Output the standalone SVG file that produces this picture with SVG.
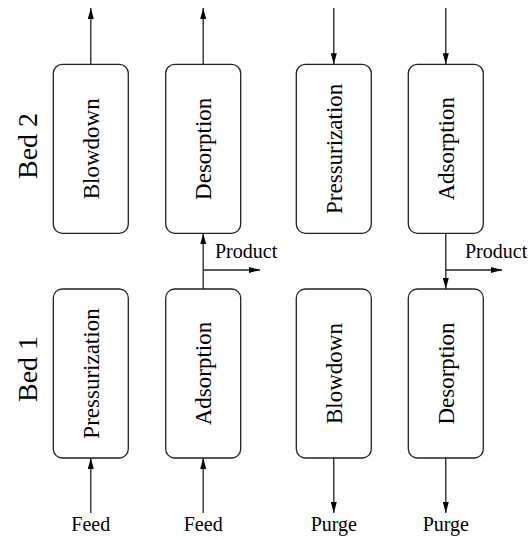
<svg xmlns="http://www.w3.org/2000/svg" width="528" height="539" viewBox="0 0 528 539">
<defs>
<marker id="ah" viewBox="0 0 11 6" refX="11" refY="3" markerWidth="11" markerHeight="6" markerUnits="userSpaceOnUse" orient="auto">
<path d="M0,0 L11,3 L0,6 z" fill="#000"/>
</marker>
<style>
.box{fill:#fff;stroke:#222;stroke-width:1.3}
.lbl{font-family:"Liberation Serif",serif;font-size:23px;text-anchor:middle;fill:#000}
.bed{font-family:"Liberation Serif",serif;font-size:28px;text-anchor:middle;fill:#000}
.io{font-family:"Liberation Serif",serif;font-size:20px;fill:#000}
.c{fill:none;stroke:#222;stroke-width:1.3;marker-end:url(#ah)}
</style>
</defs>
<rect width="528" height="539" fill="#fff"/>
<g id="bed2-label"><text class="bed" transform="translate(37,146) rotate(-90)">Bed 2</text></g>
<g id="bed1-label"><text class="bed" transform="translate(37,369) rotate(-90)">Bed 1</text></g>
<g id="b2-blowdown"><rect class="box" x="53.3" y="64.3" width="75" height="169" rx="9"/><text class="lbl" transform="translate(90.8,148.8) rotate(-90)" y="8">Blowdown</text></g>
<g id="b2-desorption"><rect class="box" x="165.7" y="64.3" width="75" height="169" rx="9"/><text class="lbl" transform="translate(203.2,148.8) rotate(-90)" y="8">Desorption</text></g>
<g id="b2-pressurization"><rect class="box" x="296.3" y="64.3" width="75" height="169" rx="9"/><text class="lbl" transform="translate(333.8,148.8) rotate(-90)" y="8">Pressurization</text></g>
<g id="b2-adsorption"><rect class="box" x="408.3" y="64.3" width="75" height="169" rx="9"/><text class="lbl" transform="translate(445.8,148.8) rotate(-90)" y="8">Adsorption</text></g>
<g id="b1-pressurization"><rect class="box" x="53.3" y="289" width="75" height="169" rx="9"/><text class="lbl" transform="translate(90.8,373.5) rotate(-90)" y="8">Pressurization</text></g>
<g id="b1-adsorption"><rect class="box" x="165.7" y="289" width="75" height="169" rx="9"/><text class="lbl" transform="translate(203.2,373.5) rotate(-90)" y="8">Adsorption</text></g>
<g id="b1-blowdown"><rect class="box" x="296.3" y="289" width="75" height="169" rx="9"/><text class="lbl" transform="translate(333.8,373.5) rotate(-90)" y="8">Blowdown</text></g>
<g id="b1-desorption"><rect class="box" x="408.3" y="289" width="75" height="169" rx="9"/><text class="lbl" transform="translate(445.8,373.5) rotate(-90)" y="8">Desorption</text></g>
<g id="connectors">
<line class="c" x1="90.8" y1="64.3" x2="90.8" y2="8"/>
<line class="c" x1="203.2" y1="64.3" x2="203.2" y2="8"/>
<line class="c" x1="333.8" y1="8" x2="333.8" y2="64.3"/>
<line class="c" x1="445.8" y1="8" x2="445.8" y2="64.3"/>
<line class="c" x1="203.2" y1="289" x2="203.2" y2="233.3"/>
<line class="c" x1="203.2" y1="270" x2="260" y2="270"/>
<line class="c" x1="445.8" y1="233.3" x2="445.8" y2="289"/>
<line class="c" x1="445.8" y1="270" x2="502" y2="270"/>
<line class="c" x1="90.8" y1="513" x2="90.8" y2="458"/>
<line class="c" x1="203.2" y1="513" x2="203.2" y2="458"/>
<line class="c" x1="333.8" y1="458" x2="333.8" y2="513"/>
<line class="c" x1="445.8" y1="458" x2="445.8" y2="513"/>
</g>
<g id="io-labels">
<text class="io" x="215" y="258">Product</text>
<text class="io" x="465" y="258">Product</text>
<text class="io" x="90.8" y="531" text-anchor="middle">Feed</text>
<text class="io" x="203.2" y="531" text-anchor="middle">Feed</text>
<text class="io" x="333.8" y="531" text-anchor="middle">Purge</text>
<text class="io" x="445.8" y="531" text-anchor="middle">Purge</text>
</g>
</svg>
